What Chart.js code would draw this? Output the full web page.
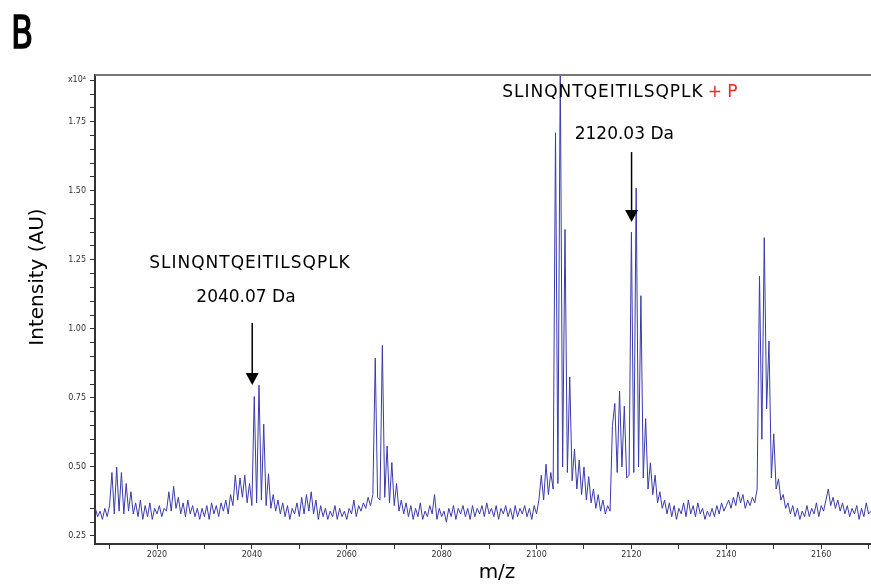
<!DOCTYPE html>
<html lang="en">

<head>
    <meta charset="UTF-8">
    <title>Mass spectrum B</title>
    <script src="https://cdn.jsdelivr.net/npm/chart.js"></script>
    <style>
        body {
            margin: 0;
            padding: 0;
            background-color: #fff;
        }

        #chart {
            display: block;
        }
    </style>
</head>

<body>
    <canvas id="chart" width="871" height="584"></canvas>

    <script>
        // spectrum sampled every 0.5 m/z, starting at 2007.0
        const mzStart = 2007.0;
        const mzStep = 0.5;
        const intensity = [
            /* 2007 */ 0.35, 0.32, 0.34, 0.31, 0.35, 0.32, 0.36, 0.48, 0.33, 0.50, 0.34, 0.48, 0.33, 0.44, 0.34, 0.41, 0.33, 0.37, 0.32, 0.38,
            /* 2017 */ 0.31, 0.36, 0.32, 0.37, 0.31, 0.35, 0.33, 0.36, 0.32, 0.35, 0.34, 0.41, 0.34, 0.43, 0.35, 0.39, 0.33, 0.37, 0.32, 0.38,
            /* 2027 */ 0.33, 0.36, 0.32, 0.35, 0.31, 0.35, 0.32, 0.36, 0.31, 0.37, 0.33, 0.36, 0.32, 0.37, 0.34, 0.38, 0.33, 0.40, 0.36, 0.47,
            /* 2037 */ 0.38, 0.46, 0.39, 0.47, 0.37, 0.44, 0.36, 0.755, 0.37, 0.796, 0.38, 0.655, 0.36, 0.475, 0.35, 0.40, 0.34, 0.38, 0.33, 0.37,
            /* 2047 */ 0.32, 0.36, 0.31, 0.35, 0.33, 0.37, 0.32, 0.39, 0.33, 0.40, 0.34, 0.41, 0.33, 0.38, 0.31, 0.36, 0.32, 0.35, 0.31, 0.34,
            /* 2057 */ 0.32, 0.36, 0.31, 0.35, 0.32, 0.34, 0.31, 0.35, 0.33, 0.38, 0.32, 0.36, 0.34, 0.37, 0.35, 0.39, 0.36, 0.40, 0.894, 0.39,
            /* 2067 */ 0.38, 0.94, 0.39, 0.576, 0.37, 0.516, 0.36, 0.44, 0.34, 0.38, 0.33, 0.37, 0.32, 0.36, 0.31, 0.35, 0.32, 0.37, 0.31, 0.34,
            /* 2077 */ 0.32, 0.36, 0.33, 0.40, 0.31, 0.35, 0.32, 0.34, 0.30, 0.35, 0.32, 0.36, 0.31, 0.35, 0.33, 0.36, 0.32, 0.35, 0.31, 0.36,
            /* 2087 */ 0.32, 0.35, 0.33, 0.36, 0.32, 0.37, 0.33, 0.35, 0.32, 0.36, 0.31, 0.35, 0.33, 0.36, 0.32, 0.35, 0.31, 0.36, 0.32, 0.35,
            /* 2097 */ 0.33, 0.36, 0.32, 0.35, 0.31, 0.36, 0.33, 0.38, 0.47, 0.38, 0.51, 0.40, 0.48, 0.42, 1.71, 0.44, 1.95, 0.50, 1.36, 0.48,
            /* 2107 */ 0.826, 0.45, 0.565, 0.42, 0.525, 0.40, 0.50, 0.38, 0.465, 0.37, 0.42, 0.35, 0.40, 0.34, 0.38, 0.33, 0.36, 0.34, 0.65, 0.73,
            /* 2117 */ 0.48, 0.775, 0.50, 0.72, 0.46, 0.47, 1.35, 0.48, 1.51, 0.50, 1.12, 0.46, 0.675, 0.42, 0.515, 0.40, 0.47, 0.37, 0.41, 0.35,
            /* 2127 */ 0.38, 0.33, 0.37, 0.32, 0.36, 0.31, 0.35, 0.33, 0.37, 0.32, 0.38, 0.33, 0.36, 0.32, 0.37, 0.33, 0.35, 0.31, 0.34, 0.32,
            /* 2137 */ 0.35, 0.32, 0.36, 0.33, 0.37, 0.34, 0.36, 0.38, 0.35, 0.39, 0.36, 0.41, 0.37, 0.40, 0.35, 0.38, 0.36, 0.39, 0.37, 0.42,
            /* 2147 */ 1.19, 0.60, 1.33, 0.71, 0.956, 0.46, 0.62, 0.42, 0.457, 0.38, 0.40, 0.35, 0.37, 0.33, 0.36, 0.32, 0.35, 0.31, 0.34, 0.32,
            /* 2157 */ 0.36, 0.32, 0.35, 0.33, 0.37, 0.32, 0.36, 0.34, 0.38, 0.42, 0.36, 0.39, 0.35, 0.38, 0.34, 0.37, 0.33, 0.36, 0.32, 0.35,
            /* 2167 */ 0.33, 0.36, 0.31, 0.35, 0.32, 0.37, 0.33, 0.34
        ];

        // axis ranges (intensity in units of 10^4)
        const xRange = [2006.93, 2170.5];
        const yRange = [0.221, 1.919];

        // annotations: text, m/z centre, intensity baseline
        const labelTexts = ['SLINQNTQEITILSQPLK', '2040.07 Da', 'SLINQNTQEITILSQPLK', '2120.03 Da'];
        const labelMz = [2039.6, 2038.75, 2114.0, 2118.5];
        const labelY = [1.235, 1.112, 1.857, 1.702];
        const arrowMz = [2040.07, 2120.03];
        const arrowFrom = [1.021, 1.64];
        const arrowTo = [0.797, 1.387];

        const points = intensity.map((v, i) => ({ x: mzStart + i * mzStep, y: v }));

        const extras = {
            id: 'extras',
            afterDraw(chart) {
                const c = chart.ctx;
                const xs = chart.scales.x;
                const ys = chart.scales.y;
                const area = chart.chartArea;
                c.save();

                // top frame line
                c.strokeStyle = '#777';
                c.lineWidth = 2;
                c.beginPath();
                c.moveTo(area.left, area.top);
                c.lineTo(area.right, area.top);
                c.stroke();

                // panel letter (narrow, like the original hand-drawn font)
                c.fillStyle = '#000';
                c.font = '45px "DejaVu Sans"';
                c.textAlign = 'left';
                c.textBaseline = 'alphabetic';
                c.save();
                c.translate(11, 48);
                c.scale(0.72, 1);
                c.strokeStyle = '#000';
                c.lineWidth = 1.5;
                c.fillText('B', 0, 0);
                c.strokeText('B', 0, 0);
                c.restore();

                // axis titles
                c.font = '20px "DejaVu Sans"';
                c.textAlign = 'center';
                c.textBaseline = 'middle';
                c.fillText('m/z', 497, 573);
                c.save();
                c.translate(38, 277);
                c.rotate(-Math.PI / 2);
                c.fillText('Intensity (AU)', 0, 0);
                c.restore();

                // labels
                labelTexts.forEach((t, i) => {
                    const px = xs.getPixelForValue(labelMz[i]);
                    const py = ys.getPixelForValue(labelY[i]);
                    c.font = '17px "DejaVu Sans"';
                    c.letterSpacing = t.startsWith('SLIN') ? '1px' : '0px';
                    c.fillStyle = '#000';
                    c.fillText(t, px, py);
                    if (i === 2) {
                        const w = c.measureText(t).width;
                        c.letterSpacing = '0px';
                        c.fillStyle = '#ee2a1a';
                        c.textAlign = 'left';
                        c.fillText('+ P', px + w / 2 + 4, py);
                        c.textAlign = 'center';
                    }
                });
                c.letterSpacing = '0px';

                // arrows
                c.strokeStyle = '#000';
                c.fillStyle = '#000';
                c.lineWidth = 1.5;
                arrowMz.forEach((m, i) => {
                    const px = xs.getPixelForValue(m);
                    const y0 = ys.getPixelForValue(arrowFrom[i]);
                    const y1 = ys.getPixelForValue(arrowTo[i]);
                    c.beginPath();
                    c.moveTo(px, y0);
                    c.lineTo(px, y1 - 10);
                    c.stroke();
                    c.beginPath();
                    c.moveTo(px - 6.5, y1 - 12);
                    c.lineTo(px + 6.5, y1 - 12);
                    c.lineTo(px, y1);
                    c.closePath();
                    c.fill();
                });
                c.restore();
            }
        };

        const ctx = document.getElementById('chart').getContext('2d');

        const chart = new Chart(ctx, {
            type: 'line',
            data: {
                datasets: [{
                    data: points,
                    borderColor: 'rgb(58, 58, 172)',
                    borderWidth: 1,
                    pointRadius: 0,
                    tension: 0,
                    fill: false
                }]
            },
            options: {
                responsive: false,
                animation: false,
                devicePixelRatio: 1,
                layout: {
                    padding: { left: 0, top: 75, right: 0, bottom: 0 }
                },
                plugins: {
                    legend: { display: false },
                    tooltip: { enabled: false }
                },
                scales: {
                    x: {
                        type: 'linear',
                        min: xRange[0],
                        max: xRange[1],
                        afterFit: s => { s.height = 40; },
                        border: { color: '#333', width: 2 },
                        grid: { drawOnChartArea: false, tickLength: 5, color: '#333' },
                        ticks: {
                            stepSize: 10,
                            includeBounds: false,
                            autoSkip: false,
                            maxRotation: 0,
                            padding: 1,
                            color: '#333',
                            font: { size: 8, family: 'DejaVu Sans' },
                            callback: v => (Math.round(v) % 20 === 0 ? String(Math.round(v)) : '')
                        }
                    },
                    y: {
                        min: yRange[0],
                        max: yRange[1],
                        afterFit: s => { s.width = 95; },
                        border: { color: '#333', width: 2 },
                        grid: { drawOnChartArea: false, tickLength: 5, color: '#333' },
                        ticks: {
                            stepSize: 0.05,
                            includeBounds: false,
                            autoSkip: false,
                            padding: 4,
                            color: '#333',
                            font: { size: 8, family: 'DejaVu Sans' },
                            callback: v => {
                                const h = Math.round(v * 100);
                                if (h === 190) return 'x10⁴';
                                return h % 25 === 0 ? (h / 100).toFixed(2) : '';
                            }
                        }
                    }
                }
            },
            plugins: [extras]
        });
    </script>
</body>

</html>
